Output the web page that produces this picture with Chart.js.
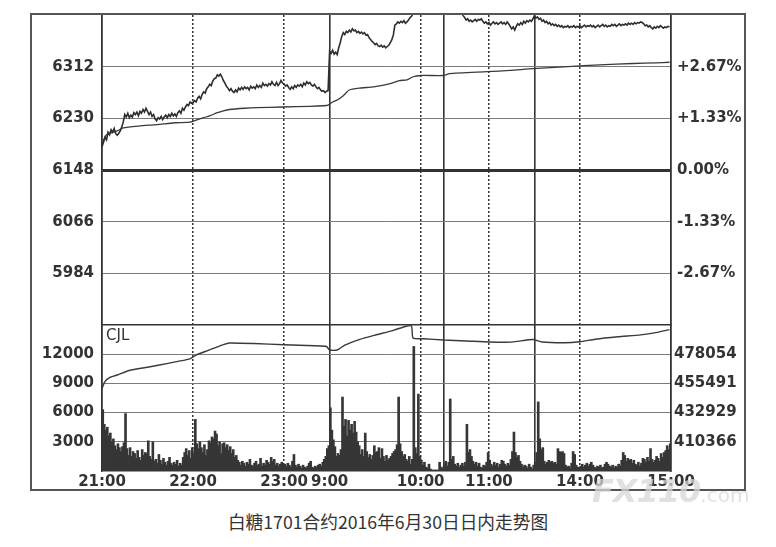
<!DOCTYPE html>
<html>
<head>
<meta charset="utf-8">
<script src="https://cdn.jsdelivr.net/npm/chart.js@4.4.1/dist/chart.umd.min.js"></script>
<style>
  html, body { margin: 0; padding: 0; background: #fff; }
  body { width: 776px; height: 547px; position: relative; overflow: hidden; }
  #frame { position: absolute; left: 30px; top: 13px; width: 716px; height: 478px;
           border: 2px solid #555; box-sizing: border-box; }
  #frame canvas { position: absolute; left: 0; top: 0; }
  #caption { position: absolute; left: 0; width: 776px; top: 508px; text-align: center;
             font: 17.7px "Noto Sans CJK SC"; color: #333; }
  #mark { position: absolute; left: 592px; top: 472px; color: rgba(215,215,215,0.75);
          font: bold italic 32px "DejaVu Sans"; letter-spacing: -1px; }
  #mark span { font: 20px "DejaVu Sans"; font-style: normal; letter-spacing: 0; }
</style>
</head>
<body>
<div id="frame"><canvas id="myChart" width="712" height="474"></canvas></div>
<div id="caption">白糖1701合约2016年6月30日日内走势图</div>
<div id="mark">FX110<span>.com</span></div>
<script>
// 分钟序号: 0 = 21:00, 150 = 9:00, 225 = 10:30, 285 = 13:30, 375 = 15:00
const tickMinutes = [0, 60, 120, 150, 210, 225, 255, 285, 315, 375]
const tickLabels = ['21:00', '22:00', '23:00', '9:00', '10:00', '', '11:00', '', '14:00', '15:00']
const sessionBreaks = [150, 225, 285]

const prevClose = 6148
const priceRange = [5902, 6394]
const priceTicks = [5984, 6066, 6148, 6230, 6312]
const volRange = [0, 15000]
const volTicks = [3000, 6000, 9000, 12000]
const oiRange = [387804, 500617]
const oiTicks = [410366, 432929, 455491, 478054]

// 每分钟价格
const price = [
  6185,6192,6200,6196,6208,6204,6212,6208,6214,6206,6203,6206,6210,6216,6224,
  6236,6232,6238,6231,6235,6232,6239,6236,6240,6234,6241,6238,6244,6240,6246,
  6241,6236,6240,6233,6236,6229,6226,6231,6229,6233,6228,6232,6235,6231,6236,
  6233,6238,6234,6237,6233,6239,6242,6238,6246,6243,6248,6252,6250,6256,6254,
  6255,6258,6256,6262,6265,6261,6268,6272,6270,6277,6280,6284,6282,6289,6293,
  6294,6299,6297,6300,6296,6290,6286,6281,6278,6274,6277,6273,6271,6275,6272,
  6278,6275,6279,6276,6280,6277,6279,6275,6281,6278,6280,6277,6283,6279,6282,
  6279,6286,6282,6284,6281,6285,6283,6288,6284,6282,6287,6282,6285,6290,6286,
  6284,6281,6283,6279,6276,6280,6277,6282,6279,6283,6281,6284,6280,6286,6283,
  6288,6285,6287,6283,6281,6284,6280,6277,6279,6275,6273,6274,6271,6273,6274,
  // 9:00
  6336,6333,6338,6332,6335,6331,6342,6350,6360,6366,6363,6368,6366,6370,6367,
  6372,6369,6370,6366,6368,6365,6367,6364,6366,6362,6363,6358,6355,6352,6350,
  6347,6349,6345,6344,6346,6343,6345,6342,6344,6346,6350,6355,6362,6378,6380,
  6383,6381,6384,6382,6385,6381,6383,6386,6390,6392,6396,6402,6405,6403,6408,
  6406,6410,6407,6411,6409,6412,6408,6410,6407,6409,6411,6408,6410,6406,6409,
  // 10:30
  6410,6407,6411,6408,6412,6409,6406,6410,6408,6405,6403,6400,6397,6393,6390,
  6386,6388,6384,6386,6383,6385,6387,6384,6387,6386,6388,6384,6381,6383,6380,
  6382,6378,6381,6383,6380,6382,6379,6381,6383,6380,6382,6379,6383,6380,6376,
  6372,6375,6370,6376,6380,6378,6382,6379,6384,6381,6385,6383,6386,6384,6388,
  // 13:30
  6393,6389,6391,6387,6389,6384,6386,6382,6384,6380,6382,6378,6380,6377,6379,
  6376,6378,6375,6377,6374,6376,6375,6377,6374,6376,6375,6377,6374,6376,6375,
  6377,6374,6376,6378,6375,6377,6376,6378,6375,6377,6374,6376,6378,6375,6377,
  6379,6376,6378,6375,6377,6376,6379,6377,6379,6376,6378,6380,6377,6379,6378,
  6380,6378,6381,6379,6381,6379,6382,6380,6382,6381,6383,6382,6380,6377,6378,
  6375,6377,6374,6372,6375,6373,6376,6374,6377,6375,6373,6375,6374,6376,6375
]

// 均价线
const avgTime = [0, 3, 10, 14, 25, 36, 48, 58, 63, 67, 71, 76, 80, 84, 94, 102, 119, 137, 146, 149,
  152, 155, 159, 163, 170, 179, 190, 196, 201, 205, 210, 225, 229, 254, 269, 284, 307, 328, 350, 365, 374]
const avgPrice = [6190, 6204, 6210, 6215, 6218, 6220, 6223, 6224, 6228, 6231, 6234, 6239, 6242, 6244, 6246, 6247, 6248, 6249, 6250, 6251,
  6256, 6259, 6266, 6275, 6278, 6280, 6285, 6290, 6291, 6296, 6298, 6298, 6301, 6304, 6306, 6309, 6312, 6315, 6317, 6318, 6319]

// 每分钟成交量
const volume = [
  6300,4800,4200,4500,3600,3900,3000,3300,2600,2200,2800,2400,2000,2500,2900,
  5900,2300,1600,2400,1500,2000,1800,1300,2100,1400,1100,2200,1600,1900,1800,
  3100,1500,1200,3000,1000,1200,800,1700,1100,700,1300,900,600,1000,1400,
  800,600,900,700,1100,500,800,600,1400,1900,2300,1600,2100,1300,2400,
  1800,5300,2800,2300,3000,2400,1900,2700,1600,2200,3100,2900,3500,3300,4100,
  3800,2600,3000,1800,2800,2900,2400,2700,2100,2500,1800,2200,1400,1600,1100,
  900,600,1000,800,500,900,700,1200,600,500,800,1000,600,700,1300,
  500,800,600,1100,900,700,1400,1000,1200,600,800,500,700,900,600,
  700,500,800,600,400,1000,1700,600,400,700,500,300,600,400,300,
  500,800,1000,400,300,500,400,600,700,500,900,1200,1500,2300,2600,
  // 9:00
  6500,4200,3200,2500,1500,1800,1600,2200,7600,4600,5300,3600,5200,4200,4800,
  3900,5100,4000,3000,2600,1700,2200,1500,3900,2000,1400,1700,1200,1600,2600,
  1900,2000,2400,1300,2300,1500,1000,1600,1100,1300,1500,1800,2000,2200,2700,
  7600,2800,2000,1500,1700,1200,1000,1500,700,1200,12800,2400,1800,7900,1500,
  1100,600,900,400,300,700,200,100,100,100,100,100,900,400,300,
  // 10:30
  600,1000,500,900,7400,1200,1500,700,500,800,400,600,800,500,900,
  4800,1900,2200,1500,1000,700,900,500,800,400,300,600,500,900,1900,
  1100,700,500,900,600,800,400,700,1100,1000,700,500,800,600,1200,
  2000,4000,1900,1400,1600,1000,700,400,600,500,300,700,400,200,600,
  // 13:30
  900,1900,7100,3300,2200,2400,1000,700,900,1100,900,1000,800,900,700,
  2300,2000,1900,2000,1800,600,400,500,300,800,2000,1700,600,400,300,
  500,700,400,600,800,500,700,900,600,400,300,500,400,600,300,
  400,700,900,700,500,400,600,300,500,400,700,500,1100,1900,1600,
  1000,1300,1100,1200,800,1100,700,600,900,500,800,1300,1200,900,1400,
  1000,2300,1200,900,1100,1500,1300,1000,1800,1400,1900,2100,2600,2200,2800
]

// 持仓量
const oiTime = [0, 2, 5, 10, 18, 30, 37, 50, 58, 62, 70, 80, 84, 100, 120, 140, 148,
  150, 155, 160, 170, 180, 192, 200, 204, 205, 212, 225, 240, 255, 270, 284, 290, 305, 315, 325, 340, 355, 365, 374]
const openInterest = [451500, 457000, 460000, 462000, 465500, 468000, 469500, 472500, 474500, 477400, 481000, 485500, 486700, 486300, 485300, 484600, 484000,
  481300, 481300, 485000, 489500, 492800, 496500, 499500, 499800, 490500, 490000, 489000, 488300, 487500, 487400, 489400, 487500, 486900, 487700, 489600, 491500, 493000, 494700, 497000]

const canvas = document.getElementById('myChart')
const tickFont = { family: 'DejaVu Sans', size: 15, weight: 'bold' }
const textColor = '#333'

function pairs(xs, ys) {
    return ys.map((v, i) => ({ x: xs[i], y: v }))
}

function fixWidth(w) {
    return scale => {
        scale.width = w
        scale.paddingTop = 0
        scale.paddingBottom = 0
    }
}

function setTicks(values) {
    return scale => { scale.ticks = values.map(v => ({ value: v })) }
}

function xKind(v) {
    if (v === 0 || v === 375) return 'edge'
    return sessionBreaks.includes(v) ? 'solid' : 'dot'
}

// 'CJL' 标签
const cjlLabel = {
    id: 'cjlLabel',
    afterDatasetsDraw(chart) {
        const ctx = chart.ctx
        ctx.save()
        ctx.font = '15px "DejaVu Sans"'
        ctx.fillStyle = textColor
        ctx.textBaseline = 'top'
        ctx.fillText('CJL', chart.chartArea.left + 4, chart.scales.yV.top + 4)
        ctx.restore()
    }
}

const config = {
    data: {
        datasets: [
            {
                type: 'line', label: 'price', data: price.map((v, i) => ({ x: i, y: v })),
                xAxisID: 'x', yAxisID: 'yP',
                borderColor: '#2e2e2e', borderWidth: 1.6, pointRadius: 0, tension: 0
            },
            {
                type: 'line', label: 'avg', data: pairs(avgTime, avgPrice),
                xAxisID: 'x', yAxisID: 'yP',
                borderColor: '#3a3a3a', borderWidth: 1.3, pointRadius: 0, tension: 0.2
            },
            {
                type: 'line', label: 'oi', data: pairs(oiTime, openInterest),
                xAxisID: 'x', yAxisID: 'yOI',
                borderColor: '#3a3a3a', borderWidth: 1.4, pointRadius: 0, tension: 0.2
            },
            {
                type: 'bar', label: 'vol', data: volume.map((v, i) => ({ x: i + 0.5, y: v })),
                xAxisID: 'x', yAxisID: 'yV',
                backgroundColor: '#363636', borderWidth: 0, barThickness: 2
            }
        ]
    },
    options: {
        responsive: false,
        animation: false,
        layout: { padding: 0 },
        plugins: { legend: { display: false }, tooltip: { enabled: false } },
        scales: {
            x: {
                type: 'linear', position: 'bottom', min: 0, max: 375, offset: false,
                afterBuildTicks: setTicks(tickMinutes),
                afterFit: scale => { scale.height = 18; scale.paddingLeft = 0; scale.paddingRight = 0 },
                ticks: {
                    autoSkip: false, maxRotation: 0, padding: 2, color: textColor, font: tickFont,
                    callback: v => tickLabels[tickMinutes.indexOf(v)]
                },
                grid: {
                    offset: false,
                    drawTicks: false,
                    color: '#333',
                    lineWidth: ctx => ctx.tick && xKind(ctx.tick.value) === 'dot' ? 1.5 : 1.6
                },
                border: {
                    color: '#333', width: 1.5,
                    dash: ctx => ctx.tick && xKind(ctx.tick.value) === 'dot' ? [2, 2] : []
                }
            },
            yP: {
                type: 'linear', position: 'left', stack: 'main', stackWeight: 310, weight: 2,
                min: priceRange[0], max: priceRange[1],
                afterBuildTicks: setTicks([priceRange[0], ...priceTicks]),
                afterFit: fixWidth(70),
                ticks: {
                    padding: 8, color: textColor, font: tickFont,
                    callback: v => v === priceRange[0] ? '' : String(v)
                },
                grid: {
                    drawTicks: false,
                    color: ctx => ctx.tick && (ctx.tick.value === prevClose || ctx.tick.value === priceRange[0]) ? '#333' : '#7a7a7a',
                    lineWidth: ctx => ctx.tick && ctx.tick.value === prevClose ? 3 : (ctx.tick && ctx.tick.value === priceRange[0] ? 1.6 : 1)
                },
                border: { color: '#333', width: 1.5 }
            },
            yV: {
                type: 'linear', position: 'left', stack: 'main', stackWeight: 146, weight: 1,
                min: volRange[0], max: volRange[1],
                afterBuildTicks: setTicks(volTicks),
                afterFit: fixWidth(70),
                ticks: { padding: 8, color: textColor, font: tickFont, callback: v => String(v) },
                grid: { drawTicks: false, color: '#7a7a7a', lineWidth: 1 },
                border: { color: '#333', width: 1.5 }
            },
            yPct: {
                type: 'linear', position: 'right', stack: 'main', stackWeight: 310, weight: 1,
                min: priceRange[0], max: priceRange[1],
                afterBuildTicks: setTicks(priceTicks),
                afterFit: fixWidth(73),
                ticks: {
                    padding: 6, color: textColor, font: tickFont,
                    callback: v => {
                        const p = (v - prevClose) / prevClose * 100
                        return (p > 0.001 ? '+' : '') + p.toFixed(2) + '%'
                    }
                },
                grid: { drawOnChartArea: false, drawTicks: false },
                border: { color: '#333', width: 1.5 }
            },
            yOI: {
                type: 'linear', position: 'right', stack: 'main', stackWeight: 146, weight: 2,
                min: oiRange[0], max: oiRange[1],
                afterBuildTicks: setTicks(oiTicks),
                afterFit: fixWidth(73),
                ticks: { padding: 3, color: textColor, font: tickFont, callback: v => String(v) },
                grid: { drawOnChartArea: false, drawTicks: false },
                border: { color: '#333', width: 1.5 }
            }
        }
    },
    plugins: [cjlLabel]
}

new Chart(canvas, config)
</script>
</body>
</html>
